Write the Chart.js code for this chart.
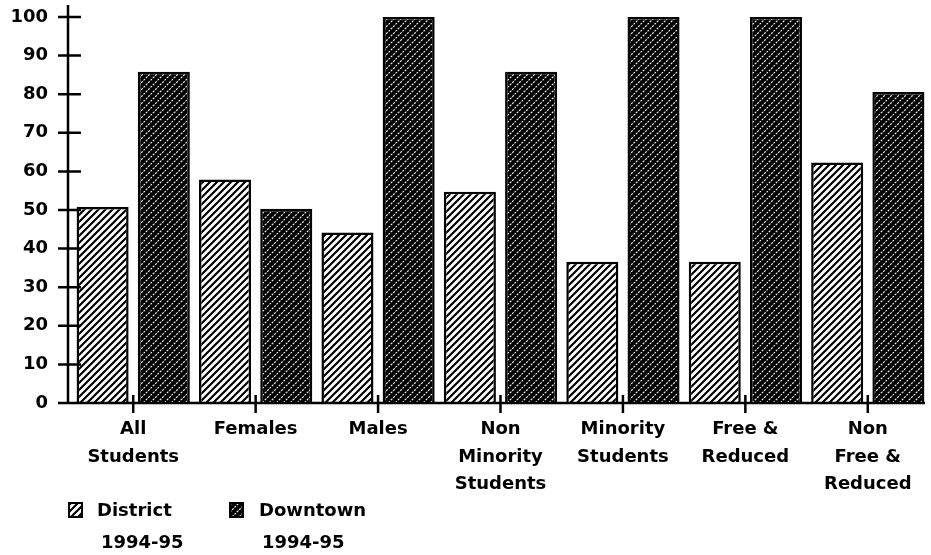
<!DOCTYPE html>
<html>
<head>
<meta charset="utf-8">
<script src="https://cdn.jsdelivr.net/npm/chart.js@4/dist/chart.umd.min.js"></script>
<style>
  body { margin: 0; background: #fff; }
  #wrap { width: 931px; height: 555px; }
</style>
</head>
<body>
<div id="wrap"><canvas id="myChart" width="931" height="555"></canvas></div>
<script>
// data
const categories = [
    ['All', 'Students'],
    ['Females'],
    ['Males'],
    ['Non', 'Minority', 'Students'],
    ['Minority', 'Students'],
    ['Free &', 'Reduced'],
    ['Non', 'Free &', 'Reduced']
]
const districtValues = [50.8, 57.9, 44.2, 54.7, 36.6, 36.6, 62.3]
const downtownValues = [85.8, 50.3, 100, 85.8, 100, 100, 80.6]
const seriesLabels = [['District', '1994-95'], ['Downtown', '1994-95']]
const yTicks = [0, 10, 20, 30, 40, 50, 60, 70, 80, 90, 100]

const FONT = '"DejaVu Sans", sans-serif'

function makePattern(dark) {
    const s = 7
    const c = document.createElement('canvas')
    c.width = s
    c.height = s
    const g = c.getContext('2d')
    g.fillStyle = dark ? '#000' : '#fff'
    g.fillRect(0, 0, s, s)
    g.strokeStyle = dark ? '#fff' : '#000'
    g.lineWidth = dark ? 1.1 : 2.2
    if (dark) g.setLineDash([2, 1.2])
    g.beginPath()
    g.moveTo(-1, s + 1); g.lineTo(s + 1, -1)
    g.moveTo(-1, 1); g.lineTo(1, -1)
    g.moveTo(s - 1, s + 1); g.lineTo(s + 1, s - 1)
    g.stroke()
    return g.createPattern(c, 'repeat')
}

const districtFill = makePattern(false)
const downtownFill = makePattern(true)

// axes, ticks and two-line legend drawn by hand
const axesPlugin = {
    id: 'axesPlugin',
    afterDraw(chart) {
        const ctx = chart.ctx
        const x = chart.scales.x
        const y = chart.scales.y
        const axisX = chart.chartArea.left - 4
        const base = y.getPixelForValue(0)
        ctx.save()
        ctx.strokeStyle = '#000'
        ctx.lineWidth = 2.5
        ctx.beginPath()
        ctx.moveTo(axisX, 5)
        ctx.lineTo(axisX, base)
        ctx.moveTo(axisX - 10, base)
        ctx.lineTo(chart.chartArea.right - 4, base)
        yTicks.forEach(v => {
            if (v === 0) return
            const py = y.getPixelForValue(v)
            ctx.moveTo(axisX - 10, py)
            ctx.lineTo(axisX + 13, py)
        })
        categories.forEach((c, i) => {
            const px = x.getPixelForValue(i)
            ctx.moveTo(px, base - 8)
            ctx.lineTo(px, base + 10)
        })
        ctx.stroke()

        // legend
        const items = [
            { fill: districtFill, bx: 69, tx: 97, tx2: 101, label: seriesLabels[0] },
            { fill: downtownFill, bx: 230, tx: 259, tx2: 262, label: seriesLabels[1] }
        ]
        ctx.font = 'bold 18px ' + FONT
        ctx.fillStyle = '#000'
        ctx.textBaseline = 'middle'
        items.forEach(it => {
            ctx.fillStyle = it.fill
            ctx.fillRect(it.bx, 503, 13, 14)
            ctx.lineWidth = 2
            ctx.strokeRect(it.bx, 503, 13, 14)
            ctx.fillStyle = '#000'
            ctx.fillText(it.label[0], it.tx, 511)
            ctx.fillText(it.label[1], it.tx2, 543)
        })
        ctx.restore()
    }
}

const config = {
    labels: categories,
    datasets: [
        {
            label: seriesLabels[0].join(' '),
            data: districtValues,
            backgroundColor: districtFill,
            borderColor: '#000',
            borderWidth: 2.5
        },
        {
            label: seriesLabels[1].join(' '),
            data: downtownValues,
            backgroundColor: downtownFill,
            borderColor: '#000',
            borderWidth: 2.5
        }
    ]
}

const chart = new Chart(document.getElementById('myChart'), {
    type: 'bar',
    data: config,
    plugins: [axesPlugin],
    options: {
        responsive: false,
        animation: false,
        devicePixelRatio: 1,
        categoryPercentage: 1.0,
        barPercentage: 0.85,
        layout: { padding: { top: 17, right: 2, left: 0, bottom: 0 } },
        plugins: {
            legend: { display: false },
            tooltip: { enabled: false }
        },
        scales: {
            x: {
                grid: { display: false, drawTicks: false },
                border: { display: false },
                ticks: {
                    padding: 12,
                    color: '#000',
                    maxRotation: 0,
                    autoSkip: false,
                    font: { family: FONT, size: 18, weight: 'bold', lineHeight: 1.55 }
                },
                afterFit(scale) {
                    scale.height = 152
                    scale.paddingLeft = 0
                    scale.paddingRight = 0
                }
            },
            y: {
                min: 0,
                max: 100,
                grid: { display: false, drawTicks: false },
                border: { display: false },
                ticks: {
                    stepSize: 10,
                    padding: 24,
                    color: '#000',
                    font: { family: FONT, size: 18, weight: 'bold' }
                },
                afterFit(scale) {
                    scale.width = 72
                    scale.paddingTop = 0
                    scale.paddingBottom = 0
                }
            }
        }
    }
})
</script>
</body>
</html>
